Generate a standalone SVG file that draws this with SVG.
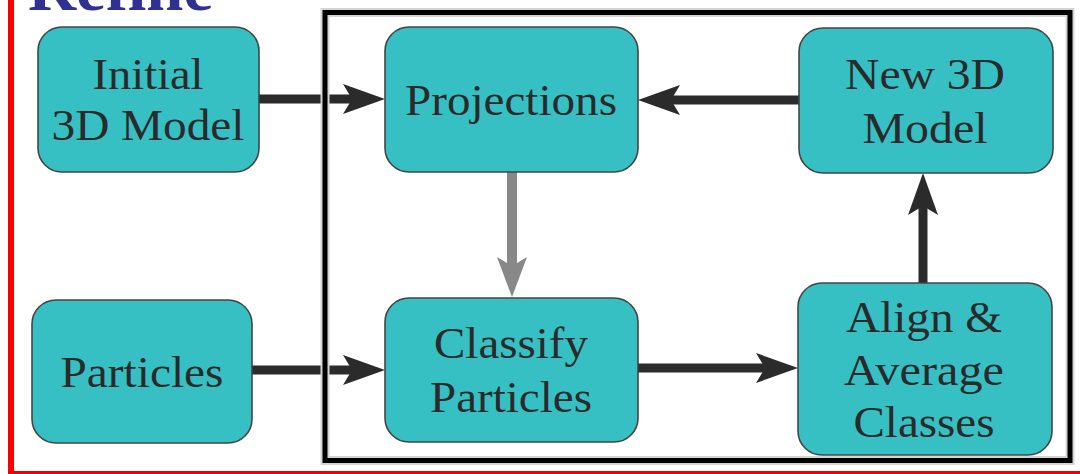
<svg xmlns="http://www.w3.org/2000/svg" width="1080" height="474" viewBox="0 0 1080 474">
<style>
.node rect{fill:#37c0c4;stroke:#444;stroke-width:1.6}
.node text{fill:#2a2a2a;text-anchor:middle}
.dark{stroke:#2b2b2b;stroke-width:9;fill:none}
.gray{stroke:#888;stroke-width:10;fill:none}
</style>
<defs>
<marker id="ah" markerUnits="userSpaceOnUse" viewBox="0 -16 42 32" refX="9" refY="0" markerWidth="42" markerHeight="32" orient="auto">
<path d="M0,-15 L42,0 L0,15 L9,0 Z" fill="#2b2b2b"/>
</marker>
<marker id="ahg" markerUnits="userSpaceOnUse" viewBox="0 -16 42 32" refX="9" refY="0" markerWidth="42" markerHeight="32" orient="auto">
<path d="M0,-15 L40,0 L0,15 L9,0 Z" fill="#888"/>
</marker>
</defs>
<rect width="1080" height="474" fill="#fff"/>
<g id="border">
<line x1="11" y1="0" x2="11" y2="474" stroke="#f00" stroke-width="6"/>
<line x1="8" y1="472.5" x2="1080" y2="472.5" stroke="#e00" stroke-width="3"/>
</g>
<text x="28" y="10" font-family="Liberation Serif, serif" font-weight="bold" font-size="66" fill="#2e3192" textLength="185" lengthAdjust="spacingAndGlyphs">Refine</text>
<g id="connectors">
<line class="dark" x1="259" y1="99" x2="352" y2="99" marker-end="url(#ah)"/>
<line class="dark" x1="252" y1="370" x2="352" y2="370" marker-end="url(#ah)"/>
<line class="dark" x1="799" y1="100" x2="671" y2="100" marker-end="url(#ah)"/>
<line class="dark" x1="638" y1="368" x2="765" y2="368" marker-end="url(#ah)"/>
<line class="dark" x1="923" y1="283" x2="923" y2="206" marker-end="url(#ah)"/>
<line class="gray" x1="512" y1="172" x2="512" y2="266" marker-end="url(#ahg)"/>
</g>
<g id="frame">
<rect x="325" y="12.5" width="745" height="448" fill="none" stroke="#d4d4d4" stroke-width="9"/>
<rect x="325" y="12.5" width="745" height="448" fill="none" stroke="#000" stroke-width="5"/>
</g>
<g font-family="Liberation Serif, serif" font-size="45">
<g id="initial" class="node">
<rect x="38" y="27" width="221" height="145" rx="24"/>
<text x="148" y="89" textLength="111" lengthAdjust="spacingAndGlyphs">Initial</text>
<text x="148" y="140" textLength="193" lengthAdjust="spacingAndGlyphs">3D Model</text>
</g>
<g id="particles" class="node">
<rect x="32" y="300" width="220" height="143" rx="24"/>
<text x="142" y="387" textLength="163" lengthAdjust="spacingAndGlyphs">Particles</text>
</g>
<g id="projections" class="node">
<rect x="385" y="27" width="253" height="145" rx="24"/>
<text x="511" y="115" textLength="212" lengthAdjust="spacingAndGlyphs">Projections</text>
</g>
<g id="new3d" class="node">
<rect x="799" y="28" width="254" height="145" rx="24"/>
<text x="925" y="89" textLength="160" lengthAdjust="spacingAndGlyphs">New 3D</text>
<text x="925" y="143" textLength="125" lengthAdjust="spacingAndGlyphs">Model</text>
</g>
<g id="classify" class="node">
<rect x="385" y="298" width="253" height="144" rx="24"/>
<text x="511" y="358" textLength="154" lengthAdjust="spacingAndGlyphs">Classify</text>
<text x="511" y="412" textLength="162" lengthAdjust="spacingAndGlyphs">Particles</text>
</g>
<g id="align" class="node">
<rect x="798" y="283" width="254" height="172" rx="24"/>
<text x="924" y="332" textLength="156" lengthAdjust="spacingAndGlyphs">Align &amp;</text>
<text x="924" y="385" textLength="160" lengthAdjust="spacingAndGlyphs">Average</text>
<text x="924" y="437" textLength="141" lengthAdjust="spacingAndGlyphs">Classes</text>
</g>
</g>
</svg>
